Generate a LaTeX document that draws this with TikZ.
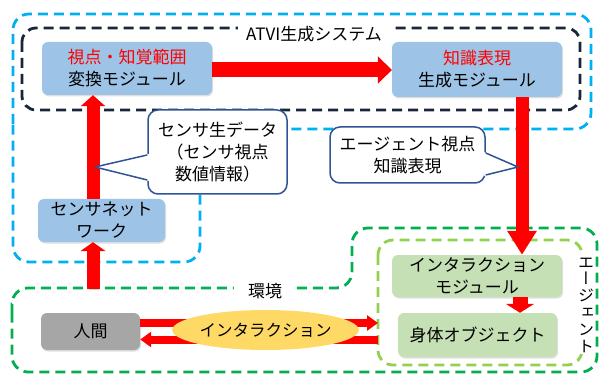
\documentclass[tikz,border=0pt]{standalone}
\usepackage{fontspec}
\setmainfont{Noto Sans CJK JP}
\newfontfamily\vertfont[RawFeature=+vert]{Noto Sans CJK JP}
\usetikzlibrary{arrows.meta,shapes.geometric,shadows}
\definecolor{modblue}{HTML}{9DC3E6}
\definecolor{modgreen}{HTML}{C5E0B4}
\definecolor{humangray}{HTML}{A6A6A6}
\definecolor{interyellow}{HTML}{FFD966}
\definecolor{arrred}{HTML}{FF0000}
\definecolor{dashblue}{HTML}{00B0F0}
\definecolor{dashnavy}{HTML}{17263A}
\definecolor{dashgreen}{HTML}{00B050}
\definecolor{dashlgreen}{HTML}{92D050}
\definecolor{callblue}{HTML}{2F5496}
\begin{document}
\begin{tikzpicture}[x=1pt,y=-1pt,
  txt/.style={font=\fontsize{17}{22}\selectfont, align=center, text=black},
  modbox/.style={txt, rounded corners=6pt, inner sep=0pt,
    drop shadow={opacity=0.25, shadow xshift=1pt, shadow yshift=-1.5pt}},
  bluebox/.style={modbox, fill=modblue},
  greenbox/.style={modbox, fill=modgreen},
  dashline/.style={line width=2.8pt, dash pattern=on 10pt off 6pt},
  redarr/.style={draw=arrred, line width=13pt, -{Triangle[width=26pt,length=12pt]}},
  thinarr/.style={draw=arrred, line width=8pt, -{Triangle[width=15pt,length=11pt]}},
  callbox/.style={txt, draw=callblue, line width=1.5pt, fill=white, rounded corners=10pt, inner sep=0pt},
  callptr/.style={draw=callblue, line width=1.5pt, line join=round},
  lbl/.style={txt, fill=white, inner sep=0pt}
]
\useasboundingbox (0,0) rectangle (602,374);

% ---- outlines ----
\draw[dashline, draw=dashblue, rounded corners=16pt]
  (13,140) -- (13,14) -- (591,14) -- (591,129) -- (200,129) -- (200,262) -- (13,262) -- cycle;
\draw[dashline, draw=dashnavy, rounded corners=14pt] (22,28) rectangle (580,110);
\draw[dashline, draw=dashgreen, rounded corners=16pt]
  (12,330) -- (12,288) -- (352,288) -- (352,228) -- (597,228) -- (597,372) -- (12,372) -- cycle;
\draw[dashline, draw=dashlgreen, rounded corners=15pt] (378,240) rectangle (582,365);

% ---- labels ----
\node[lbl, inner xsep=8pt, minimum height=20pt] (atvi) at (314,34) {ATVI生成システム};
\node[lbl, inner xsep=14pt, minimum height=12pt] (env) at (265,291) {環境};
\node[lbl, inner xsep=1pt, inner ysep=2pt, font=\fontsize{16}{16.8}\selectfont\vertfont] (agent) at (586,305)
  {エ\\ー\\ジ\\ェ\\ン\\ト};

% ---- modules ----
\node[bluebox, minimum width=170pt, minimum height=53pt] (m1) at (127,68.5)
  {\textcolor{arrred}{視点・知覚範囲}\\変換モジュール};
\node[bluebox, minimum width=170pt, minimum height=55pt] (m2) at (477,69.5)
  {\textcolor{arrred}{知識表現}\\生成モジュール};
\node[bluebox, minimum width=127pt, minimum height=43pt] (sens) at (101.5,220.5)
  {センサネット\\ワーク};
\node[greenbox, minimum width=170pt, minimum height=42pt] (im) at (477,276)
  {インタラクション\\モジュール};
\node[greenbox, minimum width=159pt, minimum height=44pt] (body) at (477.5,335)
  {身体オブジェクト};
\node[modbox, fill=humangray, minimum width=99pt, minimum height=37pt] (human) at (90.5,331.5)
  {人間};

\coordinate (envtop) at (93,289);
\coordinate (agW) at (378,331);

% ---- red arrows ----
\draw[redarr, -{Triangle[width=27pt,length=14pt]}, line width=15pt]
  ([yshift=-1.5pt]m1.east) -- ([yshift=-1.5pt]m1.east -| m2.west);
\draw[redarr, -{Triangle[width=24pt,length=11pt]}] ([xshift=-8.5pt]sens.north) -- ([xshift=-8.5pt]sens.north |- m1.south);
\draw[redarr, -{Triangle[width=25pt,length=9pt]}] (envtop) -- (envtop |- sens.south);
\draw[redarr, -{Triangle[width=28pt,length=24pt]}] ([xshift=45pt]m2.south) -- ([xshift=45pt]m2.south |- im.north);
\draw[redarr, line width=15pt, -{Triangle[width=28pt,length=9pt]}] ([xshift=43pt]im.south) -- ([xshift=43pt]im.south |- body.north);
\draw[thinarr] ([yshift=8.5pt]human.east) -- ([yshift=8.5pt]human.east -| agW);
\draw[thinarr] ([yshift=-8pt]human.east -| agW) -- ([yshift=-8pt]human.east);

\node[ellipse, fill=interyellow, minimum width=145pt, minimum height=40pt, inner sep=0pt,
  txt, font=\fontsize{16.5}{20}\selectfont] (inter) at (265.5,330) {インタラクション};

% ---- callouts ----
\node[callbox, minimum width=139pt, minimum height=84pt] (c1) at (217.5,152)
  {センサ生データ\\（センサ視点\\数値情報）};
\coordinate (c1tip) at (95,167);
\fill[white] ([xshift=2pt,yshift=-2pt]c1.west) -- (c1tip) -- ([xshift=2pt,yshift=-29pt]c1.west) -- cycle;
\draw[callptr] ([yshift=-3pt]c1.west) -- (c1tip) -- ([yshift=-28pt]c1.west);

\node[callbox, minimum width=155pt, minimum height=56pt] (c2) at (407.5,155)
  {エージェント視点\\知識表現};
\coordinate (c2tip) at (518,167);
\fill[white] ([xshift=-2pt,yshift=3pt]c2.east) -- (c2tip) -- ([xshift=-2pt,yshift=-21pt]c2.east) -- cycle;
\draw[callptr] ([yshift=2pt]c2.east) -- (c2tip) -- ([yshift=-20pt]c2.east);
\end{tikzpicture}
\end{document}
